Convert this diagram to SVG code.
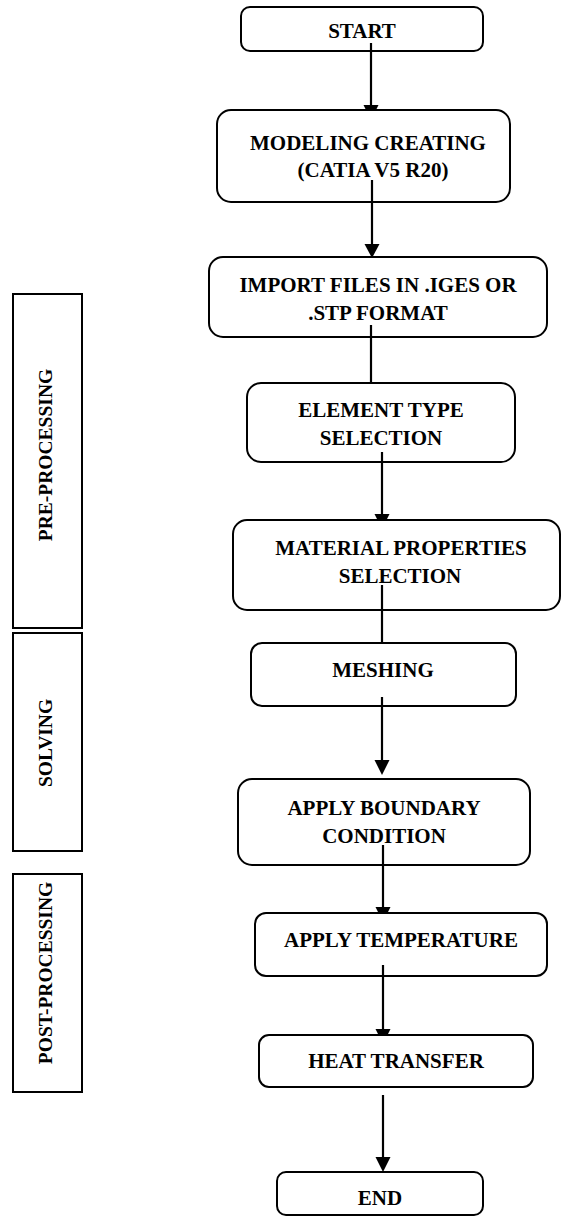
<svg xmlns="http://www.w3.org/2000/svg" width="561" height="1219" viewBox="0 0 561 1219">
<style>
.box{fill:#fff;stroke:#000;stroke-width:2}
.side{fill:#fff;stroke:#000;stroke-width:2}
.t{font-family:"Liberation Serif","Times New Roman",serif;font-weight:bold;font-size:21px;text-anchor:middle;fill:#000}
.s{font-family:"Liberation Serif","Times New Roman",serif;font-weight:bold;font-size:19.5px;text-anchor:middle;fill:#000}
.ln{stroke:#000;stroke-width:2.2;fill:none}
.ah{fill:#000}
</style>
<rect width="561" height="1219" fill="#fff"/>
<g id="pre-processing"><rect class="side" x="13" y="294" width="69" height="334"/><text class="s" transform="translate(52,455) rotate(-90)">PRE-PROCESSING</text></g>
<g id="solving"><rect class="side" x="13" y="633" width="69" height="218"/><text class="s" transform="translate(52,743) rotate(-90)">SOLVING</text></g>
<g id="post-processing"><rect class="side" x="13" y="874" width="69" height="218"/><text class="s" transform="translate(52,973) rotate(-90)">POST-PROCESSING</text></g>
<g id="start"><rect class="box" x="241" y="7" width="242" height="44" rx="9"/><text class="t" x="362" y="38">START</text></g>
<g id="modeling"><rect class="box" x="217" y="110" width="293" height="92" rx="14"/><text class="t" x="368" y="150">MODELING CREATING</text><text class="t" x="373" y="177">(CATIA V5 R20)</text></g>
<g id="import"><rect class="box" x="209" y="257" width="338" height="80" rx="14"/><text class="t" x="378" y="292">IMPORT FILES IN .IGES OR</text><text class="t" x="378" y="320">.STP FORMAT</text></g>
<g id="element"><rect class="box" x="247" y="383" width="268" height="79" rx="14"/><text class="t" x="381" y="417">ELEMENT TYPE</text><text class="t" x="381" y="445">SELECTION</text></g>
<g id="material"><rect class="box" x="233" y="520" width="327" height="90" rx="14"/><text class="t" x="401" y="555">MATERIAL PROPERTIES</text><text class="t" x="400" y="583">SELECTION</text></g>
<g id="meshing"><rect class="box" x="251" y="643" width="265" height="63" rx="11"/><text class="t" x="383" y="677">MESHING</text></g>
<g id="boundary"><rect class="box" x="238" y="779" width="292" height="86" rx="14"/><text class="t" x="384" y="815">APPLY BOUNDARY</text><text class="t" x="384" y="843">CONDITION</text></g>
<g id="temperature"><rect class="box" x="255" y="913" width="292" height="63" rx="11"/><text class="t" x="401" y="947">APPLY TEMPERATURE</text></g>
<g id="heat"><rect class="box" x="259" y="1035" width="274" height="52" rx="10"/><text class="t" x="396" y="1068">HEAT TRANSFER</text></g>
<g id="end"><rect class="box" x="277" y="1172" width="206" height="43" rx="9"/><text class="t" x="380" y="1205">END</text></g>
<g id="connectors">
<line class="ln" x1="371" y1="43" x2="371" y2="109"/><polygon class="ah" points="363.5,105 378.5,105 376,110 366,110"/>
<line class="ln" x1="372" y1="180" x2="372" y2="246"/><polygon class="ah" points="364.5,244 379.5,244 372,258"/>
<line class="ln" x1="371" y1="325" x2="371" y2="383"/>
<line class="ln" x1="382" y1="452" x2="382" y2="519"/><polygon class="ah" points="374.5,514 389.5,514 386.5,520 377.5,520"/>
<line class="ln" x1="382" y1="585" x2="382" y2="643"/>
<line class="ln" x1="382" y1="697" x2="382" y2="762"/><polygon class="ah" points="374.5,760 389.5,760 382,775"/>
<line class="ln" x1="383" y1="845" x2="383" y2="912"/><polygon class="ah" points="375.5,907 390.5,907 387.5,913 378.5,913"/>
<line class="ln" x1="383" y1="965" x2="383" y2="1034"/><polygon class="ah" points="375.5,1029 390.5,1029 387.5,1035 378.5,1035"/>
<line class="ln" x1="383" y1="1095" x2="383" y2="1160"/><polygon class="ah" points="375.5,1157 390.5,1157 383,1172"/>
</g>
</svg>
